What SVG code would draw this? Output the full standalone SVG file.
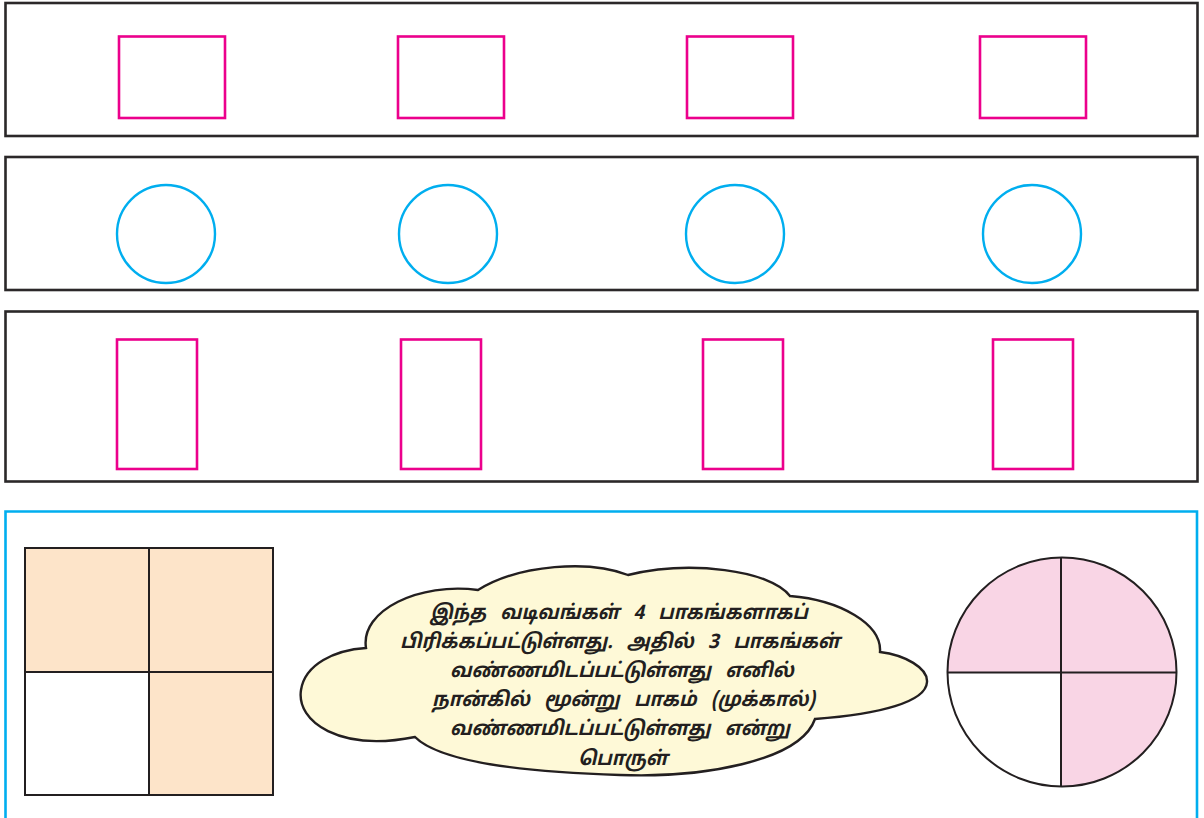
<svg xmlns="http://www.w3.org/2000/svg" width="1204" height="818" viewBox="0 0 1204 818">
<style>
.panel{fill:none;stroke:#2b2829;stroke-width:2.6}
.pk{fill:none;stroke:#ec008c;stroke-width:2.6}
.cy{fill:none;stroke:#00aeef;stroke-width:2.4}
.ln{fill:none;stroke:#231f20;stroke-width:2}
.t{font-family:"Noto Sans Tamil","Lohit Tamil","Latha","Noto Sans","DejaVu Sans",sans-serif;font-size:20px;font-weight:bold;font-style:italic;fill:#231f20;text-anchor:middle;word-spacing:10px}
</style>
<rect width="1204" height="818" fill="#ffffff"/>
<g id="panel-squares">
<rect class="panel" x="5.5" y="3" width="1192" height="133"/>
<rect class="pk" x="119" y="36.5" width="106" height="81.5"/>
<rect class="pk" x="398" y="36.5" width="106" height="81.5"/>
<rect class="pk" x="687" y="36.5" width="106" height="81.5"/>
<rect class="pk" x="980" y="36.5" width="106" height="81.5"/>
</g>
<g id="panel-circles">
<rect class="panel" x="5.5" y="157" width="1192" height="133"/>
<circle class="cy" cx="166" cy="234" r="49"/>
<circle class="cy" cx="448" cy="234" r="49"/>
<circle class="cy" cx="735" cy="234" r="49"/>
<circle class="cy" cx="1032" cy="234" r="49"/>
</g>
<g id="panel-rects">
<rect class="panel" x="5.5" y="311.5" width="1192" height="170"/>
<rect class="pk" x="117" y="339.5" width="80" height="129.5"/>
<rect class="pk" x="401" y="339.5" width="80" height="129.5"/>
<rect class="pk" x="703" y="339.5" width="80" height="129.5"/>
<rect class="pk" x="993" y="339.5" width="80" height="129.5"/>
</g>
<g id="example-panel">
<path d="M5.5,830 V511.5 H1197 V830" fill="none" stroke="#00aeef" stroke-width="2.6"/>
</g>
<g id="square-fraction">
<rect x="25" y="548" width="124" height="124" fill="#fde4c9"/>
<rect x="149" y="548" width="124" height="124" fill="#fde4c9"/>
<rect x="149" y="672" width="124" height="123" fill="#fde4c9"/>
<rect class="ln" x="25" y="548" width="248" height="247"/>
<line class="ln" x1="149" y1="548" x2="149" y2="795"/>
<line class="ln" x1="25" y1="672" x2="273" y2="672"/>
</g>
<g id="circle-fraction">
<path d="M1061,672 L1061,557.5 A114.5,114.5 0 0 0 947.5,672 Z" fill="#f9d5e5"/>
<path d="M1061,672 L1061,557.5 A114.5,114.5 0 0 1 1176.5,672 Z" fill="#f9d5e5"/>
<path d="M1061,672 L1176.5,672 A114.5,114.5 0 0 1 1061,786.5 Z" fill="#f9d5e5"/>
<circle cx="1062" cy="672" r="114.5" class="ln"/>
<line class="ln" x1="1061" y1="557.5" x2="1061" y2="786.5"/>
<line class="ln" x1="947.5" y1="672.5" x2="1176.5" y2="672.5"/>
</g>
<g id="cloud">
<path d="M415,737 C340,752 296,722 301,690 C305,664 335,650 366,648 C360,610 420,582 478,590 C520,564 590,560 628,575 C690,560 770,570 790,596 C840,600 882,624 880,652 C905,655 928,668 927,682 C926,702 880,714 815,719 C800,762 700,778 620,775 C520,772 440,762 415,737 Z" fill="#fef9d7" stroke="#231f20" stroke-width="2.4"/>
<text class="t" x="619" y="619" textLength="378" lengthAdjust="spacingAndGlyphs">இந்த வடிவங்கள் 4 பாகங்களாகப்</text>
<text class="t" x="620" y="648" textLength="440" lengthAdjust="spacingAndGlyphs">பிரிக்கப்பட்டுள்ளது. அதில் 3 பாகங்கள்</text>
<text class="t" x="622" y="677" textLength="344" lengthAdjust="spacingAndGlyphs">வண்ணமிடப்பட்டுள்ளது எனில்</text>
<text class="t" x="623.5" y="706" textLength="383" lengthAdjust="spacingAndGlyphs">நான்கில் மூன்று பாகம் (முக்கால்)</text>
<text class="t" x="620" y="735" textLength="340" lengthAdjust="spacingAndGlyphs">வண்ணமிடப்பட்டுள்ளது என்று</text>
<text class="t" x="623" y="765" textLength="90" lengthAdjust="spacingAndGlyphs">பொருள்</text>
</g>
</svg>
